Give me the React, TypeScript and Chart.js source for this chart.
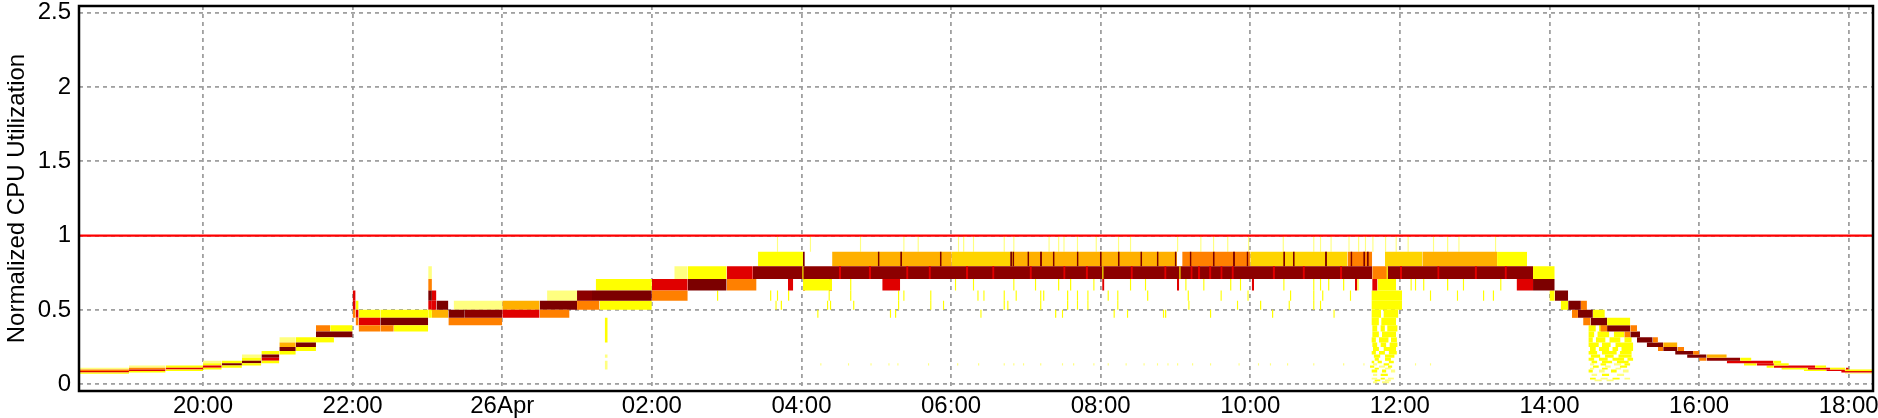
import React, { useEffect, useRef } from "react";
import { Chart, registerables } from "chart.js";

Chart.register(...registerables);

// ---- axes (time in hours since 25 Apr 00:00) ----
const X_MIN = 18.342;
const X_MAX = 42.325;
const X_TICKS = [20, 22, 24, 26, 28, 30, 32, 34, 36, 38, 40, 42];
const DAY_LABEL = "26Apr";
const Y_MIN = -0.045;
const Y_MAX = 2.545;
const Y_TICKS = [0, 0.5, 1, 1.5, 2, 2.5];
const Y_TITLE = "Normalized CPU Utilization";

// ---- heat-map value bins (lower edges, last is top edge) ----
const BIN_EDGES = [
  0.007, 0.02, 0.033, 0.0447, 0.0562, 0.0631, 0.0708, 0.0794, 0.0891, 0.1,
  0.112, 0.126, 0.141, 0.158, 0.178, 0.2, 0.224, 0.251, 0.282, 0.316, 0.355,
  0.398, 0.447, 0.501, 0.562, 0.631, 0.708, 0.794, 0.891, 1.0,
];

// ---- capacity line ----
const CAPACITY_T = [18.342, 42.325];
const CAPACITY_V = [1.0, 1.0];

// density level -> colour
const HEAT_COLORS: Record<string, string> = {
  D: "#7c0000",
  M: "#8c0000",
  R: "#e00000",
  O: "#ff8000",
  A: "#ffb000",
  B: "#ffd400",
  Y: "#ffff00",
  P: "#ffff80",
};

// [start, end, bin lower edge, level, bins spanned]
const BAND_CELLS: [number, number, number, string, number?][] = [
  [18.342, 19.01, 0.0708, "Y"], [18.342, 19.01, 0.0794, "R"], [18.342, 19.01, 0.0891, "O"], [18.342, 19.01, 0.1, "P"],
  [19.01, 19.5, 0.0794, "Y"], [19.01, 19.5, 0.0891, "R"], [19.01, 19.5, 0.1, "O"], [19.01, 19.5, 0.112, "P"],
  [19.5, 20.0, 0.0891, "Y"], [19.5, 20.0, 0.1, "R"], [19.5, 20.0, 0.112, "Y"],
  [20.0, 20.25, 0.1, "Y"], [20.0, 20.25, 0.112, "R"], [20.0, 20.25, 0.126, "Y"], [20.0, 20.25, 0.141, "P"],
  [20.25, 20.52, 0.112, "Y"], [20.25, 20.52, 0.126, "D"], [20.25, 20.52, 0.141, "Y"],
  [20.52, 20.78, 0.126, "Y"], [20.52, 20.78, 0.141, "D"], [20.52, 20.78, 0.158, "Y"], [20.52, 20.78, 0.178, "P"],
  [20.78, 21.02, 0.141, "Y"], [20.78, 21.02, 0.158, "R"], [20.78, 21.02, 0.178, "D"], [20.78, 21.02, 0.2, "Y"],
  [21.02, 21.24, 0.2, "Y"], [21.02, 21.24, 0.224, "D"], [21.02, 21.24, 0.251, "A"], [21.02, 21.24, 0.282, "P"],
  [21.24, 21.51, 0.224, "Y"], [21.24, 21.51, 0.251, "D"], [21.24, 21.51, 0.282, "Y"],
  [21.51, 21.75, 0.282, "Y"], [21.51, 22.0, 0.316, "D"], [21.51, 21.7, 0.355, "O"], [21.7, 22.0, 0.355, "Y"],
  [22.0, 22.04, 0.447, "O"], [22.0, 22.04, 0.501, "R"], [22.0, 22.04, 0.562, "R"],
  [22.04, 22.08, 0.398, "O"], [22.04, 22.08, 0.447, "R"], [22.04, 22.08, 0.501, "Y"],
  [22.08, 22.37, 0.355, "O"], [22.08, 22.37, 0.398, "R"], [22.08, 22.37, 0.447, "Y"],
  [22.37, 22.55, 0.355, "O"], [22.55, 23.01, 0.355, "Y"], [22.37, 23.01, 0.398, "D"], [22.37, 23.01, 0.447, "Y"],
  [23.01, 23.06, 0.447, "Y"], [23.01, 23.06, 0.501, "R"], [23.01, 23.06, 0.562, "D"], [23.01, 23.06, 0.631, "O"], [23.01, 23.06, 0.708, "P"],
  [23.06, 23.12, 0.562, "R"], [23.06, 23.12, 0.501, "R"], [23.12, 23.28, 0.501, "D"], [23.06, 23.28, 0.447, "A"],
  [23.28, 23.5, 0.447, "D"], [23.5, 24.0, 0.447, "M"], [23.28, 24.0, 0.398, "O"], [23.35, 24.0, 0.501, "P"],
  [24.0, 24.5, 0.447, "R"], [24.0, 24.5, 0.501, "A"],
  [24.5, 24.9, 0.447, "O"], [24.5, 25.0, 0.501, "D"], [24.6, 25.0, 0.562, "P"],
  [25.0, 25.2, 0.562, "M"], [25.2, 26.0, 0.562, "D"], [25.25, 26.0, 0.631, "Y"], [25.0, 25.3, 0.501, "O"], [25.3, 26.0, 0.501, "Y"],
  [26.0, 26.48, 0.562, "O"], [26.0, 26.48, 0.631, "R"], [26.3, 26.48, 0.708, "P"],
  [26.48, 27.0, 0.631, "D"], [26.48, 27.0, 0.708, "Y"],
  [27.0, 27.4, 0.631, "O"], [27.0, 27.35, 0.708, "R"],
  [27.35, 35.63, 0.708, "M"], [35.63, 35.83, 0.708, "O"], [35.83, 37.78, 0.708, "M"],
  [27.42, 28.02, 0.794, "Y"], [28.41, 30.01, 0.794, "A"], [30.01, 30.8, 0.794, "B"],
  [30.8, 33.02, 0.794, "A"], [33.09, 34.0, 0.794, "O"], [34.0, 35.3, 0.794, "B"], [35.3, 35.63, 0.794, "O"],
  [35.8, 36.3, 0.794, "B"], [36.3, 37.3, 0.794, "A"], [37.3, 37.7, 0.794, "Y"],
  [27.82, 27.89, 0.631, "R"], [28.02, 28.41, 0.631, "Y"], [28.02, 28.05, 0.631, "R"], [28.37, 28.41, 0.631, "R"], [29.08, 29.32, 0.631, "R"],
  [37.56, 37.78, 0.631, "R"], [37.78, 38.07, 0.631, "D"], [37.78, 38.07, 0.708, "Y"],
  [38.0, 38.07, 0.562, "Y"], [38.07, 38.25, 0.562, "D"],
  [38.15, 38.25, 0.501, "Y"], [38.25, 38.42, 0.501, "D"], [38.42, 38.5, 0.501, "O"],
  [38.3, 38.38, 0.447, "O"], [38.38, 38.58, 0.447, "D"], [38.58, 38.74, 0.447, "Y"],
  [38.45, 38.55, 0.398, "O"], [38.55, 38.77, 0.398, "D"], [38.77, 39.08, 0.398, "Y"],
  [38.68, 38.77, 0.355, "O"], [38.77, 39.08, 0.355, "D"], [39.08, 39.17, 0.355, "O"],
  [39.0, 39.08, 0.316, "O"], [39.08, 39.21, 0.316, "D"],
  [39.17, 39.38, 0.282, "D"], [39.38, 39.45, 0.282, "O"],
  [39.3, 39.52, 0.251, "D"], [39.52, 39.71, 0.251, "A"],
  [39.45, 39.52, 0.224, "O"], [39.52, 39.71, 0.224, "D"], [39.71, 39.8, 0.224, "O"],
  [39.68, 39.92, 0.2, "D"], [39.92, 40.0, 0.2, "O"],
  [39.84, 40.1, 0.178, "D"], [40.1, 40.37, 0.178, "A"],
  [40.0, 40.1, 0.158, "O"], [40.1, 40.55, 0.158, "M"], [40.55, 40.7, 0.158, "Y"],
  [40.37, 40.99, 0.141, "R"], [40.99, 41.1, 0.141, "Y"],
  [40.6, 40.77, 0.126, "Y"], [40.77, 41.0, 0.126, "R"], [41.0, 41.2, 0.126, "Y"],
  [40.9, 41.0, 0.112, "Y"], [41.0, 41.55, 0.112, "R"], [41.55, 41.7, 0.112, "Y"],
  [41.1, 41.45, 0.1, "Y"], [41.45, 41.75, 0.1, "R"], [41.75, 41.95, 0.1, "Y"],
  [41.4, 41.7, 0.0891, "Y"], [41.7, 41.95, 0.0891, "R"], [41.95, 42.325, 0.0891, "Y"],
  [41.9, 42.325, 0.0794, "R"], [41.95, 42.325, 0.0708, "P"], [41.96, 42.0, 0.0891, "R", 2],
  [25.37, 25.41, 0.282, "Y", 4], [25.37, 25.41, 0.178, "P"], [25.37, 25.41, 0.1, "P", 4],
];

// darker / redder streaks inside the plateau rows
const STREAKS_0794_DARK = [28.02, 29.02, 29.32, 29.85, 30.79, 30.82, 31.02, 31.19, 31.36, 31.68, 31.99, 32.23, 32.53, 32.75, 32.99, 33.19, 33.5, 33.77, 33.95, 34.44, 34.57, 35.0, 35.34, 35.51, 35.56];
const STREAKS_0708_RED = [28.5, 28.9, 29.4, 29.7, 30.2, 30.55, 31.05, 31.5, 31.8, 32.4, 32.85, 33.2, 33.3, 33.45, 33.6, 33.75, 34.3, 34.7, 35.2, 36.0, 36.5, 37.0, 37.4];
const STREAKS_0708_YELLOW = [28.01, 32.02, 33.05, 35.82];

// yellow clouds below the band (~11:40 and ~14:35)
const CLOUD_CELLS: [number, number, number, string, number?][] = [
  [35.63, 35.7, 0.631, "R"], [35.7, 35.95, 0.631, "Y"],
  [35.62, 36.03, 0.562, "Y"], [35.62, 36.03, 0.501, "Y"],
  [35.62, 35.75, 0.447, "Y"], [35.78, 35.98, 0.447, "Y"],
  [35.62, 35.72, 0.398, "Y"], [35.75, 35.95, 0.398, "Y"],
  [35.63, 35.7, 0.355, "Y"], [35.74, 35.8, 0.355, "Y"], [35.83, 35.97, 0.355, "Y"],
  [35.63, 35.72, 0.316, "Y"], [35.76, 35.95, 0.316, "Y"],
  [35.62, 35.68, 0.282, "Y"], [35.72, 35.85, 0.282, "Y"], [35.88, 35.96, 0.282, "Y"],
  [35.63, 35.7, 0.251, "Y"], [35.74, 35.82, 0.251, "Y"], [35.86, 35.97, 0.251, "Y"],
  [35.64, 35.72, 0.224, "Y"], [35.78, 35.95, 0.224, "Y"],
  [35.62, 35.68, 0.2, "Y"], [35.72, 35.8, 0.2, "Y"], [35.85, 35.96, 0.2, "Y"],
  [35.65, 35.74, 0.178, "Y"], [35.8, 35.93, 0.178, "Y"],
  [35.66, 35.72, 0.158, "Y"], [35.8, 35.88, 0.158, "Y"],
  [35.62, 35.66, 0.141, "Y"], [35.7, 35.76, 0.141, "Y"], [35.85, 35.92, 0.141, "Y"],
  [35.64, 35.7, 0.126, "P"], [35.78, 35.86, 0.126, "Y"],
  [35.6, 35.66, 0.112, "Y"], [35.72, 35.8, 0.112, "P"], [35.84, 35.9, 0.112, "Y"],
  [35.66, 35.72, 0.1, "Y"], [35.8, 35.88, 0.1, "P"],
  [35.62, 35.7, 0.0794, "Y", 2], [35.76, 35.82, 0.0794, "Y", 2], [35.88, 35.94, 0.0794, "P", 2],
  [35.64, 35.7, 0.0562, "P", 2], [35.74, 35.84, 0.0562, "Y", 2],
  [35.62, 35.7, 0.033, "P"], [35.74, 35.8, 0.033, "Y"], [35.84, 35.92, 0.033, "P"],
  [35.66, 35.74, 0.02, "Y"], [35.8, 35.88, 0.02, "P"],
  [35.64, 35.7, 0.007, "P"], [35.76, 35.86, 0.007, "P"],
  [38.52, 38.62, 0.355, "Y"], [38.66, 38.74, 0.355, "Y"],
  [38.52, 38.6, 0.316, "Y"], [38.64, 38.8, 0.316, "Y"], [38.86, 39.0, 0.316, "Y"],
  [38.52, 38.58, 0.282, "Y"], [38.62, 38.75, 0.282, "Y"], [38.8, 38.95, 0.282, "Y"], [39.0, 39.1, 0.282, "Y"],
  [38.52, 38.66, 0.251, "Y"], [38.7, 38.82, 0.251, "Y"], [38.88, 39.12, 0.251, "Y"],
  [38.54, 38.62, 0.224, "Y"], [38.66, 38.8, 0.224, "Y"], [38.84, 38.92, 0.224, "Y"], [38.96, 39.12, 0.224, "Y"],
  [38.52, 38.64, 0.2, "Y"], [38.7, 38.9, 0.2, "Y"], [38.94, 39.1, 0.2, "Y"],
  [38.55, 38.68, 0.178, "Y"], [38.74, 38.86, 0.178, "Y"], [38.92, 39.1, 0.178, "Y"],
  [38.52, 38.6, 0.158, "Y"], [38.66, 38.78, 0.158, "Y"], [38.84, 39.0, 0.158, "Y"], [39.04, 39.12, 0.158, "Y"],
  [38.56, 38.64, 0.141, "Y"], [38.7, 38.84, 0.141, "Y"], [38.9, 39.06, 0.141, "Y"],
  [38.54, 38.6, 0.126, "P"], [38.68, 38.76, 0.126, "Y"], [38.86, 38.96, 0.126, "P"], [39.0, 39.08, 0.126, "Y"],
  [38.58, 38.66, 0.112, "Y"], [38.74, 38.82, 0.112, "P"], [38.94, 39.04, 0.112, "Y"],
  [38.54, 38.6, 0.1, "P"], [38.7, 38.78, 0.1, "Y"], [38.88, 38.96, 0.1, "P"],
  [38.52, 38.58, 0.0794, "Y", 2], [38.66, 38.74, 0.0794, "P", 2], [38.82, 38.9, 0.0794, "Y", 2], [38.98, 39.06, 0.0794, "P", 2],
  [38.56, 38.64, 0.0562, "P", 2], [38.7, 38.8, 0.0562, "Y", 2], [38.9, 39.0, 0.0562, "P", 2],
  [38.54, 38.62, 0.033, "Y"], [38.68, 38.78, 0.033, "P"], [38.84, 38.94, 0.033, "Y"], [39.0, 39.08, 0.033, "P"],
  [38.6, 38.7, 0.02, "P"], [38.76, 38.86, 0.02, "P"],
];

// thin sparse stripes (times) per bin
const STRIPES_0891 = [27.67, 28.11, 28.78, 29.36, 29.55, 30.09, 30.16, 30.29, 30.7, 30.83, 31.3, 31.43, 31.5, 31.68, 31.93, 32.23, 32.39, 33.02, 33.33, 33.5, 33.69, 33.97, 34.43, 34.84, 34.93, 35.07, 35.31, 35.44, 35.53, 35.63, 35.8, 35.94, 36.1, 36.44, 36.63, 36.78, 37.27];
const STRIPES_0631 = [28.65, 30.05, 30.29, 30.83, 31.12, 31.43, 31.59, 31.9, 32.39, 32.59, 33.13, 33.37, 33.73, 33.86, 34.44, 34.84, 34.93, 35.04, 35.24, 35.43, 36.14, 36.2, 36.31, 36.63, 36.84, 37.34];
const STRIPES_0631_RED = [32.02, 33.02, 34.02, 35.4];
const STRIPES_0562 = [26.87, 27.58, 27.67, 27.82, 28.36, 28.65, 29.29, 29.36, 29.72, 30.35, 30.43, 30.7, 30.86, 31.19, 31.23, 31.55, 31.68, 31.82, 32.09, 32.22, 32.62, 33.16, 33.6, 33.96, 34.53, 34.84, 34.96, 35.33, 36.4, 36.76, 37.11, 37.24];
const STRIPES_0501 = [25.44, 27.65, 27.72, 28.34, 28.38, 28.69, 29.29, 29.72, 29.89, 30.7, 30.75, 31.19, 31.55, 31.68, 31.82, 32.22, 33.17, 33.82, 34.13, 34.51, 34.84, 34.93];
const STRIPES_0447 = [28.21, 29.18, 29.25, 30.39, 31.39, 31.48, 32.17, 32.35, 32.83, 32.86, 33.46, 34.29, 35.11];
const SPECKS_0126 = [28.25, 28.62, 28.92, 29.16, 29.28, 29.69, 30.08, 30.36, 30.7, 30.83, 30.96, 31.19, 31.48, 31.63, 31.9, 32.09, 32.33, 32.57, 32.75, 32.89, 33.02, 33.22, 33.46, 33.84, 34.1, 34.26, 34.49, 34.84, 35.24, 35.51, 36.2, 36.4];

function binRange(lo: number, n = 1): [number, number] {
  const i = BIN_EDGES.indexOf(lo);
  return [BIN_EDGES[i], BIN_EDGES[Math.min(i + n, BIN_EDGES.length - 1)]];
}

function cellDataset(t0: number, t1: number, lo: number, hi: number, color: string) {
  return {
    type: "line" as const,
    data: [
      { x: t0, y: hi },
      { x: t1, y: hi },
    ],
    fill: { value: lo },
    backgroundColor: color,
    borderColor: "rgba(0,0,0,0)",
    borderWidth: 0,
    pointRadius: 0,
    pointHoverRadius: 0,
    tension: 0,
  };
}

function cellsToDatasets(cells: [number, number, number, string, number?][]) {
  return cells.map(([t0, t1, lo, lvl, n]) => {
    const [a, b] = binRange(lo, n || 1);
    return cellDataset(t0, t1, a, b, HEAT_COLORS[lvl]);
  });
}

function stripesToDatasets(times: number[], lo: number, lvl: string, width: number) {
  return times.map((t) => {
    const [a, b] = binRange(lo, 1);
    return cellDataset(t, t + width, a, b, HEAT_COLORS[lvl]);
  });
}

const framePlugin = {
  id: "frame",
  afterDraw(chart: any) {
    const { ctx, chartArea: a } = chart;
    ctx.save();
    ctx.strokeStyle = "#000";
    ctx.lineWidth = 2.5;
    ctx.strokeRect(a.left, a.top, a.right - a.left, a.bottom - a.top);
    ctx.restore();
  },
};

const FONT = "'Liberation Sans', Arial, Helvetica, sans-serif";

export default function App() {
  const ref = useRef<HTMLCanvasElement | null>(null);

  useEffect(() => {
    if (!ref.current) return;
    const capacity = {
      type: "line" as const,
      data: CAPACITY_T.map((t, i) => ({ x: t, y: CAPACITY_V[i] })),
      borderColor: "#ff0000",
      borderWidth: 2.4,
      pointRadius: 0,
      fill: false,
      tension: 0,
    };
    // earlier entries are drawn on top
    const datasets: any[] = [
      capacity,
      ...stripesToDatasets(STREAKS_0708_YELLOW, 0.708, "Y", 0.02),
      ...stripesToDatasets(STREAKS_0708_RED, 0.708, "R", 0.03),
      ...stripesToDatasets(STREAKS_0794_DARK, 0.794, "D", 0.025),
      ...cellsToDatasets(BAND_CELLS),
      ...cellsToDatasets(CLOUD_CELLS),
      ...stripesToDatasets(STRIPES_0631_RED, 0.631, "R", 0.03),
      ...stripesToDatasets(STRIPES_0891, 0.891, "P", 0.02),
      ...stripesToDatasets(STRIPES_0631, 0.631, "Y", 0.02),
      ...stripesToDatasets(STRIPES_0562, 0.562, "Y", 0.02),
      ...stripesToDatasets(STRIPES_0501, 0.501, "Y", 0.02),
      ...stripesToDatasets(STRIPES_0447, 0.447, "Y", 0.02),
      ...stripesToDatasets(SPECKS_0126, 0.126, "P", 0.02),
    ];

    const chart = new Chart(ref.current, {
      type: "line",
      data: { datasets },
      plugins: [framePlugin],
      options: {
        responsive: false,
        animation: false,
        devicePixelRatio: 1,
        events: [],
        layout: { autoPadding: false, padding: { top: 6, right: 5, left: 0, bottom: 0 } },
        plugins: {
          legend: { display: false },
          tooltip: { enabled: false },
        },
        scales: {
          x: {
            type: "linear",
            min: X_MIN,
            max: X_MAX,
            afterBuildTicks: (s: any) => {
              s.ticks = X_TICKS.map((v) => ({ value: v }));
            },
            afterFit: (s: any) => {
              s.height = 27;
              s.paddingLeft = 0;
              s.paddingRight = 0;
            },
            ticks: {
              autoSkip: false,
              maxRotation: 0,
              padding: 1,
              color: "#000",
              font: { family: FONT, size: 24 },
              callback: (v: any) => {
                const h = Number(v) % 24;
                return h === 0 ? DAY_LABEL : (h < 10 ? "0" : "") + h + ":00";
              },
            },
            grid: { color: "#a0a0a0", lineWidth: 1.8, drawTicks: false },
            border: { display: false, dash: [4, 4] },
          },
          y: {
            type: "linear",
            min: Y_MIN,
            max: Y_MAX,
            afterBuildTicks: (s: any) => {
              s.ticks = Y_TICKS.map((v) => ({ value: v }));
            },
            afterFit: (s: any) => {
              s.width = 79;
              s.paddingTop = 0;
              s.paddingBottom = 0;
            },
            ticks: {
              padding: 8,
              color: "#000",
              font: { family: FONT, size: 24 },
              callback: (v: any) => String(v),
            },
            grid: { color: "#a0a0a0", lineWidth: 1.8, drawTicks: false },
            border: { display: false, dash: [4, 4] },
            title: {
              display: true,
              text: Y_TITLE,
              color: "#000",
              font: { family: FONT, size: 24 },
              padding: { top: 3, bottom: 0 },
            },
          },
        },
      },
    } as any);
    return () => chart.destroy();
  }, []);

  return (
    <div style={{ position: "absolute", left: 0, top: 0, width: 1878, height: 418, background: "#fff" }}>
      <canvas ref={ref} width={1878} height={418} style={{ display: "block" }} />
    </div>
  );
}
